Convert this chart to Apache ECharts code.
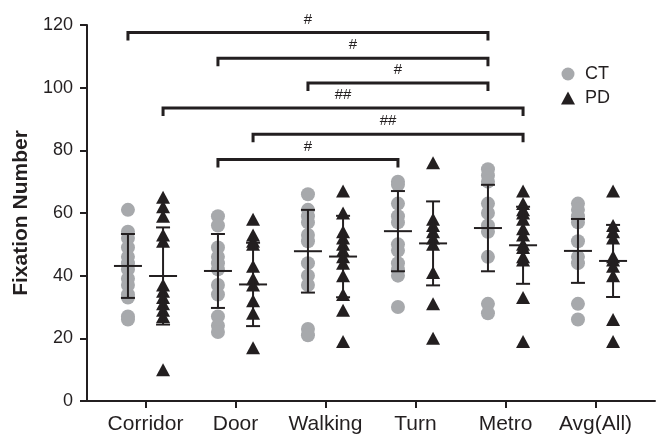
<!DOCTYPE html>
<html>
<head>
    <meta charset="utf-8" />
    <title>Fixation Number</title>
    <script src="https://cdn.jsdelivr.net/npm/echarts@6/dist/echarts.min.js"></script>
    <style>
        html, body { margin: 0; padding: 0; background: #fff; }
        #container { width: 659px; height: 435px; }
    </style>
</head>
<body>
<div id="container"></div>
<script>
// 分组
var categories = ['Corridor', 'Door', 'Walking', 'Turn', 'Metro', 'Avg(All)'];
var groups = ['CT', 'PD'];

// 各组散点 (CT)
var ctCorridor = [61, 54, 52, 49, 46, 44, 42, 39, 37, 34, 33, 27, 26];
var ctDoor     = [59, 56, 49, 46, 44, 42, 37, 34, 27, 24, 22];
var ctWalking  = [66, 61, 59, 57, 53, 51, 44, 40, 37, 23, 21];
var ctTurn     = [70, 69, 63, 59, 57, 50, 48, 44, 42, 40, 30];
var ctMetro    = [74, 72, 70, 63, 60, 56, 54, 46, 31, 28];
var ctAvg      = [63, 61, 59, 57, 51, 46, 44, 31, 26];

// 各组散点 (PD)
var pdCorridor = [65, 62, 59, 53, 51, 37, 35, 33, 31, 29, 27, 10];
var pdDoor     = [58, 53, 51, 50, 43, 39, 37, 32, 28, 17];
var pdWalking  = [67, 60, 54, 52, 50, 48, 46, 44, 40, 34, 29, 19];
var pdTurn     = [76, 58, 56, 54, 52, 50, 41, 31, 20];
var pdMetro    = [67, 63, 61, 60, 58, 55, 53, 50, 49, 46, 45, 33, 19];
var pdAvg      = [67, 56, 54, 52, 46, 45, 43, 40, 26, 19];

// 均值和标准差
var ctMean = [43.1, 41.5, 47.8, 54.2, 55.2, 47.9];
var ctSd   = [10.2, 11.8, 13.2, 12.8, 13.8, 10.2];
var pdMean = [39.9, 37.2, 46.1, 50.3, 49.7, 44.7];
var pdSd   = [15.5, 13.3, 13.0, 13.4, 12.3, 11.5];

// 显著性标记
var bracketFrom  = [['Corridor', 'CT'], ['Door', 'CT'], ['Walking', 'CT'], ['Corridor', 'PD'], ['Door', 'PD'], ['Door', 'CT']];
var bracketTo    = [['Metro', 'CT'], ['Metro', 'CT'], ['Metro', 'CT'], ['Metro', 'PD'], ['Metro', 'PD'], ['Turn', 'CT']];
var bracketY     = [117.6, 109.4, 101.5, 93.5, 85.1, 77.1];
var bracketLabel = ['#', '#', '#', '##', '##', '#'];

var ctValues = [ctCorridor, ctDoor, ctWalking, ctTurn, ctMetro, ctAvg];
var pdValues = [pdCorridor, pdDoor, pdWalking, pdTurn, pdMetro, pdAvg];

var OFFSET = 0.195;
var FONT = 'Liberation Sans';
var INK = '#231f20';

function xOf(cat, grp) {
    return categories.indexOf(cat) + (grp === 'CT' ? -OFFSET : OFFSET);
}

function points(list, off) {
    var out = [];
    for (var i = 0; i < list.length; i++) {
        for (var j = 0; j < list[i].length; j++) {
            out.push([i + off, list[i][j]]);
        }
    }
    return out;
}

var statData = [];
for (var i = 0; i < categories.length; i++) {
    statData.push([i - OFFSET, ctMean[i], ctSd[i]]);
    statData.push([i + OFFSET, pdMean[i], pdSd[i]]);
}

var bracketData = [];
for (var k = 0; k < bracketY.length; k++) {
    bracketData.push([xOf(bracketFrom[k][0], bracketFrom[k][1]), xOf(bracketTo[k][0], bracketTo[k][1]), bracketY[k], bracketLabel[k]]);
}

var myChart = echarts.init(document.getElementById('container'));
var option = {
    animation: false,
    backgroundColor: '#fff',
    textStyle: { fontFamily: FONT },
    grid: { left: 87, right: 4, top: 25, bottom: 32 },
    legend: {
        orient: 'vertical',
        left: 556,
        top: 60,
        itemWidth: 14,
        itemHeight: 13,
        itemGap: 6,
        data: groups,
        textStyle: { fontSize: 18, color: INK, fontFamily: FONT, padding: [0, 0, 0, 5] }
    },
    xAxis: {
        type: 'value',
        min: -0.65,
        max: 5.661,
        splitLine: { show: false },
        axisLine: { onZero: false, lineStyle: { color: INK, width: 2 } },
        axisTick: { show: true, length: 7, customValues: [0, 1, 2, 3, 4, 5], lineStyle: { color: INK, width: 2 } },
        axisLabel: {
            customValues: [0, 1, 2, 3, 4, 5],
            margin: 13,
            fontSize: 21,
            color: INK,
            fontFamily: FONT,
            formatter: function (v) { return categories[Math.round(v)]; }
        }
    },
    yAxis: {
        type: 'value',
        min: 0,
        max: 120,
        interval: 20,
        name: 'Fixation Number',
        nameLocation: 'middle',
        nameGap: 49,
        nameTextStyle: { fontSize: 21, fontWeight: 'bold', color: INK, fontFamily: FONT },
        splitLine: { show: false },
        axisLine: { show: true, onZero: false, lineStyle: { color: INK, width: 2 } },
        axisTick: { show: true, length: 7, lineStyle: { color: INK, width: 2 } },
        axisLabel: { margin: 14, fontSize: 18, color: INK, fontFamily: FONT }
    },
    series: [
        {
            name: 'CT',
            type: 'scatter',
            symbol: 'circle',
            symbolSize: 14,
            itemStyle: { color: '#a7a9ac', opacity: 1 },
            data: points(ctValues, -OFFSET),
            z: 2
        },
        {
            name: 'PD',
            type: 'scatter',
            symbol: 'triangle',
            symbolSize: [14, 13],
            itemStyle: { color: INK, opacity: 1 },
            data: points(pdValues, OFFSET),
            z: 2
        },
        {
            // 均值线和误差线
            type: 'custom',
            z: 3,
            data: statData,
            renderItem: function (params, api) {
                var x = api.value(0), m = api.value(1), sd = api.value(2);
                var c = api.coord([x, m]);
                var top = api.coord([x, m + sd]);
                var bot = api.coord([x, m - sd]);
                var st = { stroke: INK, lineWidth: 2 };
                return {
                    type: 'group',
                    children: [
                        { type: 'line', shape: { x1: c[0] - 14, y1: c[1], x2: c[0] + 14, y2: c[1] }, style: st },
                        { type: 'line', shape: { x1: c[0], y1: top[1], x2: c[0], y2: bot[1] }, style: st },
                        { type: 'line', shape: { x1: c[0] - 7, y1: top[1], x2: c[0] + 7, y2: top[1] }, style: st },
                        { type: 'line', shape: { x1: c[0] - 7, y1: bot[1], x2: c[0] + 7, y2: bot[1] }, style: st }
                    ]
                };
            }
        },
        {
            // 显著性括号
            type: 'custom',
            z: 4,
            data: bracketData,
            renderItem: function (params, api) {
                var a = api.coord([api.value(0), api.value(2)]);
                var b = api.coord([api.value(1), api.value(2)]);
                var label = bracketLabel[params.dataIndex];
                return {
                    type: 'group',
                    children: [
                        {
                            type: 'polyline',
                            shape: { points: [[a[0], a[1] + 8], [a[0], a[1]], [b[0], b[1]], [b[0], b[1] + 8]] },
                            style: { stroke: INK, lineWidth: 3, fill: null }
                        },
                        {
                            type: 'text',
                            x: (a[0] + b[0]) / 2,
                            y: a[1] - 13,
                            style: { text: label, fill: INK, fontSize: 15, fontFamily: FONT, align: 'center', verticalAlign: 'middle' }
                        }
                    ]
                };
            }
        }
    ]
};
myChart.setOption(option);
</script>
</body>
</html>
